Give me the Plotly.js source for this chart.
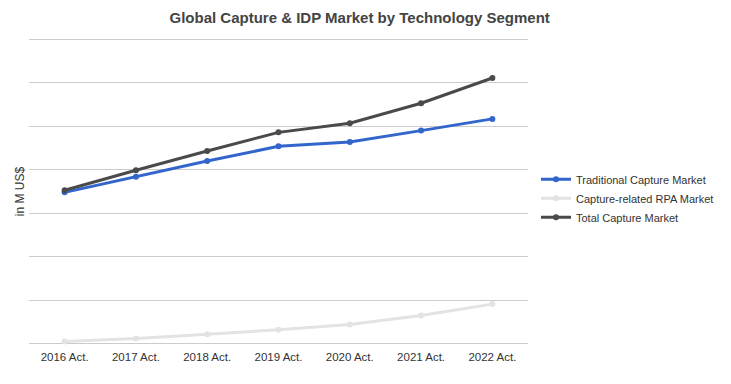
<!DOCTYPE html>
<html>
<head>
<meta charset="utf-8">
<script src="https://cdn.plot.ly/plotly-3.0.1.min.js"></script>
<style>html,body{margin:0;padding:0;background:#fff;}#chart{width:731px;height:384px;}</style>
</head>
<body>
<div id="chart"></div>
<script>
const categories = ["2016 Act.", "2017 Act.", "2018 Act.", "2019 Act.", "2020 Act.", "2021 Act.", "2022 Act."];
const traditionalCapture = [3.48, 3.84, 4.20, 4.54, 4.64, 4.90, 5.17];
const rpaCapture = [0.05, 0.12, 0.22, 0.32, 0.44, 0.65, 0.91];
const totalCapture = [3.53, 3.99, 4.43, 4.86, 5.07, 5.53, 6.11];

const mk = (name, y, color) => ({
  type: 'scatter', mode: 'lines+markers', name: name, x: categories, y: y,
  line: {color: color, width: 3}, marker: {color: color, size: 6}
});

const data = [
  mk('Traditional Capture Market', traditionalCapture, '#3366cc'),
  mk('Capture-related RPA Market', rpaCapture, '#e3e3e3'),
  mk('Total Capture Market', totalCapture, '#4a4a4a')
];

const layout = {
  width: 731, height: 384,
  margin: {l: 29, r: 201, t: 38, b: 39},
  paper_bgcolor: '#fff', plot_bgcolor: '#fff',
  font: {family: 'Liberation Sans, Arial, sans-serif', size: 11, color: '#333'},
  title: {text: 'Global Capture & IDP Market by Technology Segment', x: 0.492, xref: 'container', y: 0.968, yref: 'container',
    font: {family: 'Liberation Sans, Arial, sans-serif', size: 15, color: '#444', weight: 'bold'}},
  xaxis: {type: 'category', showgrid: false, zeroline: false, showline: false, ticks: '',
    tickfont: {size: 11.5, color: '#333'}, range: [-0.5, 6.5], ticklabelstandoff: 3},
  yaxis: {range: [-0.03, 7.03], tickvals: [0, 1, 2, 3, 4, 5, 6, 7], showticklabels: false, gridcolor: '#cccccc', gridwidth: 1,
    zeroline: false, showline: false, ticks: '',
    title: {text: 'in M US$', standoff: 0, font: {size: 12, color: '#333'}}},
  showlegend: true,
  legend: {x: 1.016, xanchor: 'left', y: 0.478, yanchor: 'middle', font: {size: 11, color: '#333'},
    bgcolor: 'rgba(0,0,0,0)', tracegroupgap: 0},
};

Plotly.newPlot('chart', data, layout, {displayModeBar: false, staticPlot: true});
</script>
</body>
</html>
